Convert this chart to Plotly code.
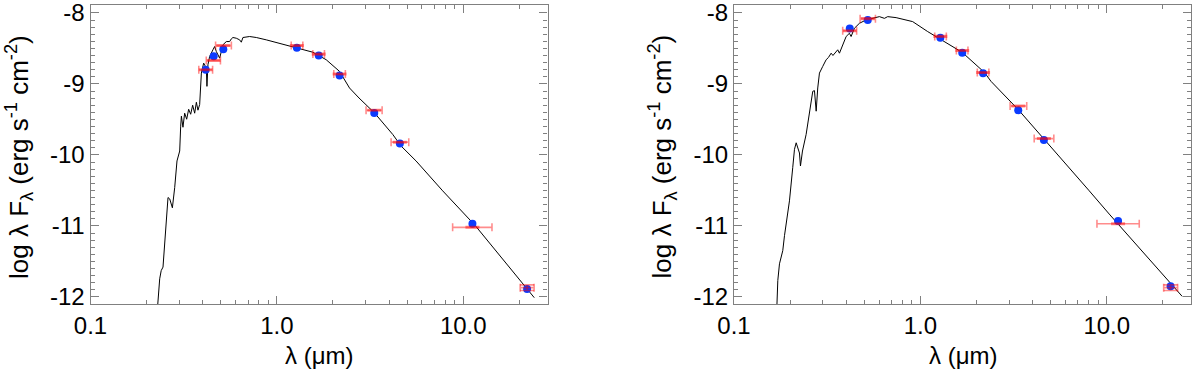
import plotly.graph_objects as go

# ---------------- data: left panel ----------------
spec1_wl = [0.2266, 0.2309, 0.2351, 0.2395, 0.2449, 0.2605, 0.2661, 0.2750, 0.2830, 0.2911,
            0.3010, 0.3047, 0.3074, 0.3134, 0.3201, 0.3281, 0.3363, 0.3447, 0.3533, 0.3622,
            0.3698, 0.3772, 0.3852, 0.3934, 0.4047, 0.4184, 0.4215, 0.4267, 0.4357, 0.4539,
            0.4635, 0.4733, 0.4828, 0.4930, 0.5035, 0.5135, 0.5356, 0.5578, 0.5696, 0.5810,
            0.6058, 0.6311, 0.6445, 0.6574, 0.7140, 0.7755, 0.8772, 1.077, 1.323, 1.559,
            1.839, 2.168, 2.453, 2.758, 3.339, 4.184, 4.642, 5.585, 7.757, 11.61, 24.04]
spec1_flux = [-12.30, -12.05, -11.745, -11.63, -11.58, -10.60, -10.62, -10.745, -10.46, -10.085,
              -9.945, -9.595, -9.454, -9.61, -9.412, -9.497, -9.357, -9.427, -9.30, -9.412,
              -9.258, -9.37, -9.29, -8.847, -8.707, -8.777, -9.034, -8.729, -8.613, -8.519,
              -8.473, -8.543, -8.589, -8.637, -8.543, -8.449, -8.403, -8.403, -8.365, -8.346,
              -8.356, -8.379, -8.412, -8.346, -8.332, -8.346, -8.379, -8.440, -8.496, -8.553,
              -8.659, -8.823, -9.057, -9.198, -9.408, -9.711, -9.875, -10.086, -10.506, -10.997, -12.011]

phot1_wl = [0.415, 0.458, 0.516, 1.28, 1.677, 2.17, 3.33, 4.57, 11.2, 22.0]
phot1_lo = [0.381, 0.418, 0.469, 1.194, 1.56, 2.02, 3.01, 4.10, 8.77, 20.2]
phot1_hi = [0.452, 0.498, 0.570, 1.378, 1.80, 2.33, 3.67, 5.10, 14.26, 24.0]
phot1_obs = [-8.80, -8.67, -8.46, -8.46, -8.58, -8.86, -9.37, -9.82, -11.02, -11.87]
phot1_err = [0.01, 0.01, 0.01, 0.01, 0.01, 0.01, 0.01, 0.01, 0.01, 0.04]
phot1_model = [-8.80, -8.61, -8.51, -8.49, -8.60, -8.88, -9.41, -9.84, -10.97, -11.89]

# ---------------- data: right panel ----------------
spec2_wl = [0.1690, 0.1704, 0.1718, 0.1754, 0.1791, 0.1827, 0.1866, 0.1905, 0.1984, 0.2066,
            0.2111, 0.2156, 0.2199, 0.2245, 0.2273, 0.2330, 0.2438, 0.2540, 0.2646, 0.2702,
            0.2760, 0.2814, 0.2874, 0.2993, 0.3122, 0.3212, 0.3321, 0.3395, 0.3532, 0.3602,
            0.3679, 0.3832, 0.3996, 0.4161, 0.4249, 0.4426, 0.4709, 0.5115, 0.5548, 0.6028,
            0.6412, 0.6679, 0.7410, 0.9093, 1.094, 1.345, 1.680, 2.204, 2.394, 3.354,
            4.721, 8.058, 10.31, 25.40]
spec2_flux = [-12.30, -12.049, -11.769, -11.534, -11.418, -11.348, -11.137, -10.973, -10.647, -10.180,
              -9.921, -9.829, -9.903, -9.973, -10.156, -9.945, -9.711, -9.431, -9.104, -9.094,
              -9.384, -9.057, -8.847, -8.753, -8.659, -8.627, -8.567, -8.599, -8.543, -8.519,
              -8.567, -8.449, -8.332, -8.286, -8.332, -8.216, -8.146, -8.098, -8.076, -8.052,
              -8.076, -8.052, -8.066, -8.122, -8.262, -8.403, -8.557, -8.837, -8.964, -9.363,
              -9.805, -10.506, -10.833, -11.993]

phot2_wl = [0.418, 0.522, 1.28, 1.677, 2.17, 3.35, 4.6, 11.5, 22.0]
phot2_lo = [0.383, 0.475, 1.194, 1.56, 2.02, 3.03, 4.08, 8.86, 20.2]
phot2_hi = [0.455, 0.574, 1.378, 1.80, 2.33, 3.72, 5.20, 14.94, 24.0]
phot2_obs = [-8.25, -8.08, -8.33, -8.53, -8.84, -9.31, -9.77, -10.97, -11.87]
phot2_err = [0.01, 0.01, 0.01, 0.01, 0.01, 0.01, 0.01, 0.01, 0.04]
phot2_model = [-8.22, -8.10, -8.35, -8.56, -8.85, -9.37, -9.79, -10.93, -11.85]

x_tickvals = [0.1, 1.0, 10.0]
x_ticktext = ["0.1", "1.0", "10.0"]
x_minor = [0.2, 0.3, 0.4, 0.5, 0.6, 0.7, 0.8, 0.9, 2, 3, 4, 5, 6, 7, 8, 9, 20]
y_tickvals = [-8, -9, -10, -11, -12]
y_ticktext = ["-8", "-9", "-10", "-11", "-12"]
x_title = "λ (μm)"
y_title = "log λ F<sub>λ</sub> (erg s<sup>-1</sup> cm<sup>-2</sup>)"

FONT = "Liberation Sans, Arial, Helvetica, sans-serif"
BLUE = "#0b3bff"
RED = "rgba(255,0,0,0.45)"
AXC = "#808080"
FS = 24
W, H = 1200, 371
TOP, BOT = 5, 304

fig = go.Figure()

panels = [
    (spec1_wl, spec1_flux, phot1_wl, phot1_lo, phot1_hi, phot1_obs, phot1_err, phot1_model, "x", "y"),
    (spec2_wl, spec2_flux, phot2_wl, phot2_lo, phot2_hi, phot2_obs, phot2_err, phot2_model, "x2", "y2"),
]
for swl, sfl, pwl, plo, phi, pobs, perr, pmod, xa, ya in panels:
    fig.add_trace(go.Scatter(x=swl, y=sfl, mode="lines", line=dict(color="black", width=1.0),
                             xaxis=xa, yaxis=ya, showlegend=False, hoverinfo="skip"))
    fig.add_trace(go.Scatter(x=pwl, y=pmod, mode="markers",
                             marker=dict(color=BLUE, size=8, line=dict(width=0)),
                             xaxis=xa, yaxis=ya, showlegend=False))
    fig.add_trace(go.Scatter(
        x=pwl, y=pobs, mode="markers", marker=dict(size=2, opacity=0),
        error_x=dict(type="data", symmetric=False,
                     array=[h - w for h, w in zip(phi, pwl)],
                     arrayminus=[w - l for w, l in zip(pwl, plo)],
                     color=RED, thickness=1.6, width=4),
        error_y=dict(type="data", array=perr, color=RED, thickness=1.6, width=7),
        xaxis=xa, yaxis=ya, showlegend=False))

xcommon = dict(type="log", range=[-1.0, 1.452], tickvals=x_tickvals, ticktext=x_ticktext,
               ticks="inside", ticklen=8, tickwidth=1, tickcolor=AXC,
               minor=dict(tickvals=x_minor, ticks="inside", ticklen=4, tickwidth=1, tickcolor=AXC),
               showline=True, linecolor=AXC, linewidth=1.2, mirror="ticks",
               showgrid=False, zeroline=False, ticklabeloverflow="allow", automargin=False,
               tickfont=dict(family=FONT, size=FS, color="black"))
ycommon = dict(range=[-12.10, -7.888], tickvals=y_tickvals, ticktext=y_ticktext,
               ticks="inside", ticklen=8, tickwidth=1, tickcolor=AXC,
               minor=dict(dtick=0.1, ticks="inside", ticklen=4, tickwidth=1, tickcolor=AXC),
               showline=True, linecolor=AXC, linewidth=1.2, mirror="ticks",
               showgrid=False, zeroline=False, ticklabeloverflow="allow", automargin=False,
               tickfont=dict(family=FONT, size=FS, color="black"))

left_dom = [90.5 / W, 547.5 / W]
right_dom = [734.0 / W, 1191.0 / W]

annotations = []
for dom in (left_dom, right_dom):
    annotations.append(dict(text=x_title, xref="paper", yref="paper",
                            x=(dom[0] + dom[1]) / 2, y=(BOT - 355) / (BOT - TOP),
                            xanchor="center", yanchor="middle", showarrow=False,
                            font=dict(family=FONT, size=FS, color="black")))
    annotations.append(dict(text=y_title, xref="paper", yref="paper",
                            x=dom[0] - 71.5 / W, y=(BOT - 157) / (BOT - TOP),
                            xanchor="center", yanchor="middle", textangle=-90, showarrow=False,
                            font=dict(family=FONT, size=26, color="black")))

fig.update_layout(
    width=W, height=H,
    margin=dict(l=0, r=0, t=TOP, b=H - BOT, autoexpand=False),
    plot_bgcolor="white", paper_bgcolor="white",
    xaxis=dict(domain=left_dom, anchor="y", **xcommon),
    yaxis=dict(domain=[0, 1], anchor="x", **ycommon),
    xaxis2=dict(domain=right_dom, anchor="y2", **xcommon),
    yaxis2=dict(domain=[0, 1], anchor="x2", **ycommon),
    annotations=annotations,
)

fig.write_html("out.html", config={"displayModeBar": False},
               post_script="document.body.style.margin='0';document.body.style.overflow='hidden';")
